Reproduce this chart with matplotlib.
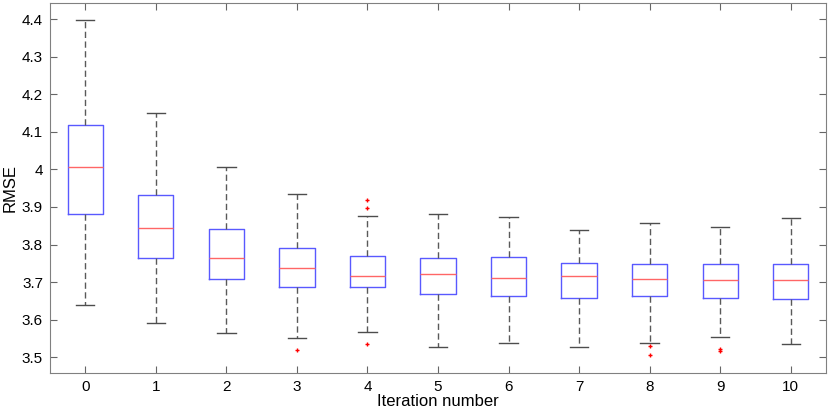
import matplotlib
matplotlib.use("Agg")
import matplotlib.pyplot as plt

plt.rcParams['font.family'] = ['Liberation Sans', 'DejaVu Sans']

# box statistics, one entry per iteration
iterations = [0, 1, 2, 3, 4, 5, 6, 7, 8, 9, 10]
whisk_hi = [4.398, 4.150, 4.007, 3.935, 3.875, 3.880, 3.872, 3.840, 3.858, 3.846, 3.870]
q3 = [4.117, 3.933, 3.842, 3.792, 3.770, 3.763, 3.768, 3.752, 3.747, 3.749, 3.749]
median = [4.006, 3.845, 3.765, 3.738, 3.717, 3.722, 3.712, 3.715, 3.709, 3.706, 3.706]
q1 = [3.880, 3.763, 3.709, 3.688, 3.687, 3.667, 3.662, 3.657, 3.663, 3.658, 3.654]
whisk_lo = [3.640, 3.592, 3.564, 3.550, 3.566, 3.528, 3.538, 3.526, 3.537, 3.555, 3.534]
outliers = [[], [], [], [3.519], [3.919, 3.897, 3.535], [], [], [], [3.529, 3.505],
            [3.521, 3.516], []]

stats = []
for i in range(len(iterations)):
    stats.append({'med': median[i], 'q1': q1[i], 'q3': q3[i],
                  'whislo': whisk_lo[i], 'whishi': whisk_hi[i],
                  'fliers': outliers[i]})

fig = plt.figure(figsize=(8.29, 4.15), dpi=100)
ax = fig.add_axes([0.0603, 0.1012, 0.9361, 0.8916])

ax.bxp(stats, positions=iterations, widths=0.5, showfliers=True,
       boxprops=dict(color=(0.35, 0.35, 1.0), linewidth=1.0),
       medianprops=dict(color=(1.0, 0.4, 0.4), linewidth=1.0),
       whiskerprops=dict(color=(0.35, 0.35, 0.35), linestyle=(0, (4.5, 2.5)), linewidth=1.0),
       capprops=dict(color=(0.3, 0.3, 0.3), linewidth=1.0),
       capwidths=0.26,
       flierprops=dict(marker='+', markeredgecolor='red', markersize=3, markeredgewidth=1.0,
                       linestyle='none'))

ax.set_xlim(-0.5, 10.5)
ax.set_ylim(3.458, 4.443)
ax.set_xticks(iterations)
ax.set_xticklabels([str(i) for i in iterations])
ax.set_yticks([3.5, 3.6, 3.7, 3.8, 3.9, 4.0, 4.1, 4.2, 4.3, 4.4])
ax.set_yticklabels(['3.5', '3.6', '3.7', '3.8', '3.9', '4', '4.1', '4.2', '4.3', '4.4'])
ax.tick_params(direction='in', top=True, right=True, length=5, width=0.8,
               color=(0.4, 0.4, 0.4), labelsize=11, pad=5)
for sp in ax.spines.values():
    sp.set_color((0.5, 0.5, 0.5))
    sp.set_linewidth(0.8)

ax.set_xlabel('Iteration number', fontsize=12, labelpad=0)
ax.set_ylabel('RMSE', fontsize=12, labelpad=3)

fig.savefig('out.png', dpi=100)
